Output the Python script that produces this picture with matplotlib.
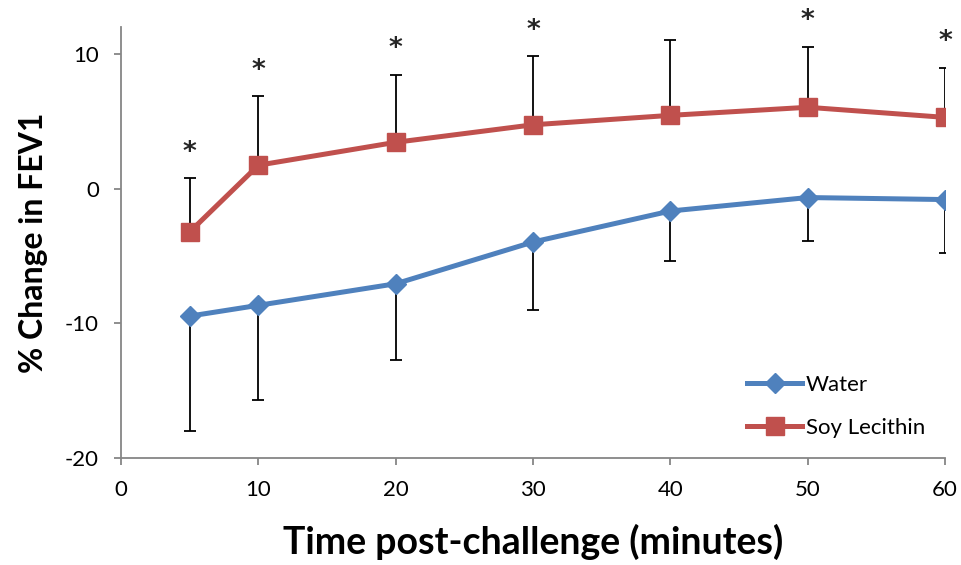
import matplotlib.pyplot as plt

plt.rcParams['font.family'] = ['Lato', 'DejaVu Sans']
plt.rcParams['axes.unicode_minus'] = False

minutes = [5, 10, 20, 30, 40, 50, 60]
water = [-9.45, -8.65, -7.05, -3.95, -1.65, -0.65, -0.8]
water_low = [-17.95, -15.65, -12.7, -9.0, -5.35, -3.85, -4.75]
soy = [-3.2, 1.75, 3.45, 4.75, 5.45, 6.05, 5.3]
soy_high = [0.8, 6.85, 8.45, 9.85, 11.05, 10.55, 9.0]
star_at = [5, 10, 20, 30, 50, 60]

blue = '#4F81BD'
red = '#C0504D'
grey = '#868686'

fig = plt.figure(figsize=(9.61, 5.65), dpi=100)
ax = fig.add_axes([0.126, 0.189, 0.8574, 0.763])

water_err = [[w - lo for w, lo in zip(water, water_low)], [0] * len(water)]
soy_err = [[0] * len(soy), [hi - s for s, hi in zip(soy, soy_high)]]

ax.errorbar(minutes, water, yerr=water_err, fmt='none', ecolor='black',
            elinewidth=1.3, capsize=4.3, capthick=1.3, zorder=2)
ax.errorbar(minutes, soy, yerr=soy_err, fmt='none', ecolor='black',
            elinewidth=1.3, capsize=4.3, capthick=1.3, zorder=2)

ax.plot(minutes, water, color=blue, linewidth=3.6, marker='D', markersize=10,
        label='Water', zorder=3)
ax.plot(minutes, soy, color=red, linewidth=3.6, marker='s', markersize=13,
        label='Soy Lecithin', zorder=3)

# significance marks over the soy error bars
for m in star_at:
    i = minutes.index(m)
    ax.annotate('*', xy=(m, soy_high[i]), xytext=(0, 9), textcoords='offset points',
                ha='center', va='bottom', fontsize=19, color='#262626',
                family='DejaVu Sans', fontweight='bold')

ax.set_xlim(0, 60)
ax.set_ylim(-20, 12)
ax.set_xticks([0, 10, 20, 30, 40, 50, 60])
ax.set_yticks([-20, -10, 0, 10])

for side in ['top', 'right']:
    ax.spines[side].set_visible(False)
for side in ['left', 'bottom']:
    ax.spines[side].set_color(grey)
    ax.spines[side].set_linewidth(1.3)

ax.tick_params(axis='both', which='major', labelsize=16, color=grey,
               length=5, width=1.3, direction='out')
ax.tick_params(axis='x', pad=11)
ax.tick_params(axis='y', pad=11)

ax.set_xlabel('Time post-challenge (minutes)', fontsize=27, fontweight='bold', labelpad=17)
ax.set_ylabel('% Change in FEV1', fontsize=23, fontweight='bold', labelpad=12)

ax.legend(loc='lower right', bbox_to_anchor=(1.0, 0.0), frameon=False,
          fontsize=16, handlelength=2.5, handletextpad=0.15, labelspacing=1.05,
          borderaxespad=0.5)

fig.savefig('out.png', dpi=100)
